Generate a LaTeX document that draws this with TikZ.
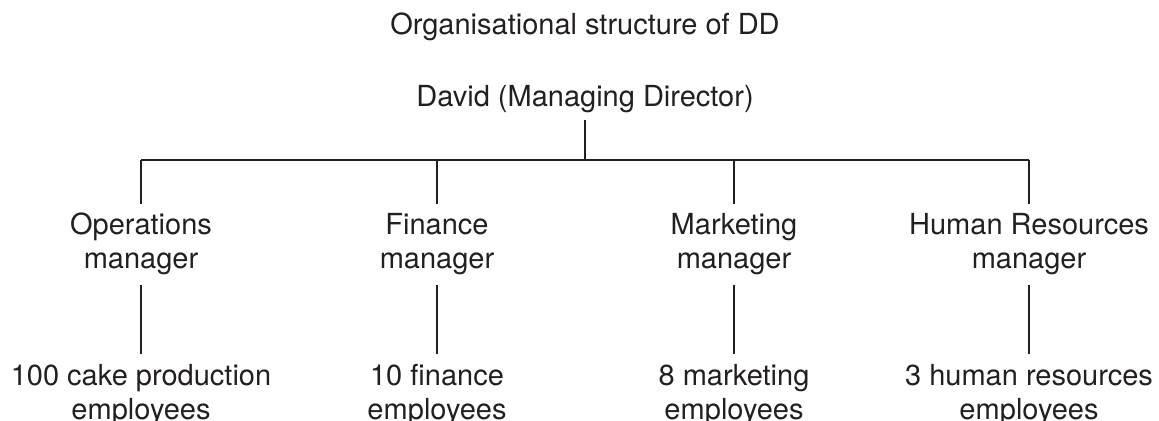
\documentclass[tikz,border=0pt]{standalone}
\usepackage{fontspec}
\setmainfont{TeX Gyre Heros}
\usepackage{tikz}
\usetikzlibrary{positioning}
\definecolor{inkblack}{RGB}{35,31,32}

\begin{document}
\begin{tikzpicture}[x=0.5pt,y=-0.5pt,
    lbl/.style={font=\fontsize{14.5}{17}\selectfont, align=center, anchor=base, inner sep=4.5pt, text=inkblack},
    link/.style={inkblack, line width=1.2pt}]
    \useasboundingbox (0,0) rectangle (1159,421);

    % Title
    \node[lbl] (title) at (585,35) {Organisational structure of DD};

    % Managing director
    \node[lbl, inner sep=3pt] (md) at (585,107) {David (Managing Director)};
    \coordinate (bus) at (585,160);
    \draw[link] (md.south) -- (bus);

    % Managers and their staff (base = last line)
    \foreach \x/\nm/\mgr/\emp in {141/ops/{Operations\\manager}/{100 cake production\\employees},
        437/fin/{Finance\\manager}/{10 finance\\employees},
        734/mkt/{Marketing\\manager}/{8 marketing\\employees},
        1029/hr/{Human Resources\\manager}/{3 human resources\\employees}} {
        \node[lbl] (\nm) at (\x,269) {\mgr};
        \node[lbl] (\nm emp) at (\x,419) {\emp};
        \draw[link] (\nm.north) -- (\nm.north |- bus);
        \draw[link] (\nm.south) -- (\nm emp.north);
    }
    \draw[link] (ops.north |- bus) -- (hr.north |- bus);
\end{tikzpicture}
\end{document}
